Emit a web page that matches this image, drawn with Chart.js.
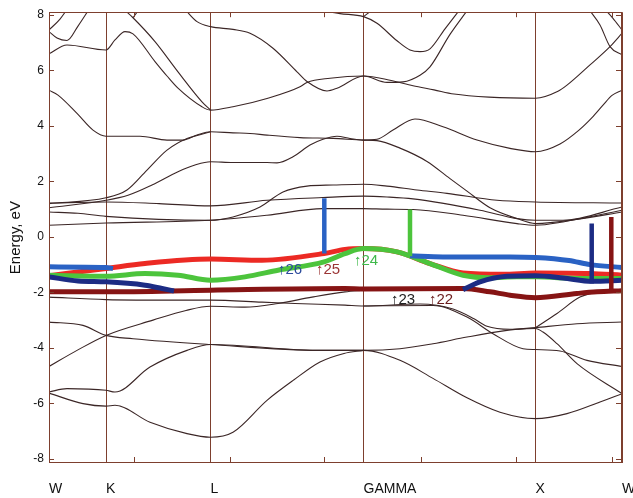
<!DOCTYPE html>
<html>
<head>
<meta charset="utf-8">
<script src="https://cdn.jsdelivr.net/npm/chart.js@4.4.0/dist/chart.umd.min.js"></script>
<style>
  html, body { margin: 0; padding: 0; background: #ffffff; }
</style>
</head>
<body>
<canvas id="bandChart" width="633" height="498"></canvas>
<script>
// k-path positions (arbitrary path length units) and labels
const symLabels = ["W", "K", "L", "GAMMA", "X", "W"];
const symPos = [0, 57, 161.5, 314.5, 486.5, 573];
const minorTicksX = [85, 181, 275, 372, 467, 563];
const yTickValues = [-8, -6, -4, -2, 0, 2, 4, 6, 8];

// thin bands, [k, energy eV]
const bandC1 = [[0, 7.46], [11, 7.85], [18, 8.2]];
const bandC2 = [[0, 7.4], [8, 7.17], [18, 7.08], [29, 7.6], [40, 8.2]];
const bandC3 = [[0, 6.6], [18, 6.92], [57, 6.74], [66, 7.1], [76, 7.4], [84, 7.32], [106, 6.32], [118, 5.8], [129, 5.36], [153, 4.69], [161.5, 4.57], [184, 4.69], [218, 4.99], [251, 5.41], [258, 5.57], [281, 5.72], [314.5, 5.8], [338, 5.57], [354, 5.59], [371, 5.83], [381, 6.13], [401, 7.3], [419, 8.2]];
const bandD = [[75, 8.2], [84, 7.9], [106, 7.04], [129, 5.95], [153, 4.87], [161.5, 4.57]];
const bandV = [[84, 7.9], [90, 8.2]];
const bandC4 = [[136, 8.2], [148, 7.76], [161.5, 7.58], [184, 7.48], [201, 7.34], [224, 6.8], [248, 5.95], [258, 5.6], [278, 5.26], [288, 5.36], [314.5, 5.8], [341, 5.65], [364, 5.45], [385, 5.3], [405, 5.15], [440, 5.04], [486.5, 5.0], [509, 5.25], [518, 5.47], [541, 6.2], [561, 6.86], [573, 7.34]];
const bandC6 = [[266, 8.2], [291, 8.05], [314.5, 7.94], [328, 7.7], [348, 7.07], [361, 6.74], [371, 6.68], [381, 6.78], [396, 7.5], [411, 8.2]];
const bandC7 = [[314.5, 7.94], [324, 8.2]];
const bandC8 = [[540, 8.2], [551, 7.64], [561, 6.86], [573, 6.56]];
const bandC9 = [[556, 8.2], [564, 7.88], [573, 7.46]];
const bandC5 = [[0, 5.29], [9, 5.11], [28, 4.45], [44, 3.85], [57, 3.63], [91, 3.63], [118, 3.49], [134, 3.49], [148, 3.67], [161.5, 3.79], [184, 3.75], [201, 3.73], [218, 3.67], [251, 3.58], [284, 3.55], [314.5, 3.49], [328, 3.47], [351, 3.2], [378, 2.72], [401, 2.1], [418, 1.65], [441, 1.05], [468, 0.66], [486.5, 0.48], [531, 0.65], [573, 0.9]];
const bandB1 = [[0, 1.2], [57, 1.41], [78, 1.69], [98, 2.41], [118, 3.13], [138, 3.55], [151, 3.68], [161.5, 3.79]];
const bandB2 = [[0, 1.05], [57, 1.32], [79, 1.5], [103, 1.87], [129, 2.35], [146, 2.59], [161.5, 2.71], [184, 2.68], [218, 2.68], [228, 2.67], [244, 2.89], [261, 3.31], [274, 3.52], [288, 3.63], [301, 3.55], [314.5, 3.49], [328, 3.52], [344, 3.85], [366, 4.25], [394, 3.97], [428, 3.49], [461, 3.19], [486.5, 3.07], [511, 3.35], [530, 3.85], [543, 4.3], [554, 4.75], [563, 5.1], [573, 5.29]];
const bandB3 = [[0, 1.22], [57, 1.26], [110, 1.2], [161.5, 1.12], [218, 1.32], [274, 1.42], [314.5, 1.47], [338, 1.44], [364, 1.37], [431, 0.96], [468, 0.66], [486.5, 0.6], [514, 0.6], [573, 1.08]];
const bandB4 = [[0, 0.9], [29, 0.85], [57, 0.74], [161.5, 0.6], [171, 0.63], [184, 0.72], [211, 1.08], [234, 1.62], [258, 1.83], [284, 1.87], [314.5, 1.9], [338, 1.83], [368, 1.69], [398, 1.57], [448, 1.32], [486.5, 1.26], [573, 1.22]];
const bandB5 = [[0, 0.42], [57, 0.5], [161.5, 0.6], [218, 0.78], [274, 1.02], [314.5, 1.02], [338, 1.0], [364, 0.99], [414, 0.78], [468, 0.48], [486.5, 0.42], [514, 0.54], [573, 0.96]];
const bandP = [[0, -2.17], [57, -2.26], [129, -2.28], [161.5, -2.28], [213, -2.35], [246, -2.4], [296, -2.46], [314.5, -2.49], [371, -2.42], [404, -2.6], [425, -2.95], [438, -3.22], [461, -3.33], [486.5, -3.3], [494, -3.43], [508, -3.85], [528, -4.57], [573, -5.65]];
const bandQ = [[314.5, -2.49], [384, -2.47], [418, -2.89], [444, -3.49], [474, -4.03], [486.5, -4.06], [511, -4.11], [538, -4.45], [573, -4.67]];
const bandR = [[0, -4.67], [28, -4.09], [57, -3.55], [104, -3.0], [137, -2.65], [161.5, -2.5], [196, -2.53], [229, -2.4], [263, -2.17], [296, -1.98], [314.5, -1.92]];
const bandS = [[0, -3.07], [34, -3.19], [57, -3.55], [84, -3.67], [161.5, -3.88], [271, -4.09], [314.5, -4.09], [351, -4.03], [384, -3.85], [418, -3.61], [458, -3.37], [486.5, -3.27], [528, -3.13], [573, -3.07]];
const bandT = [[0, -5.59], [18, -5.47], [57, -5.53], [66, -5.59], [101, -4.69], [138, -4.09], [161.5, -3.88], [271, -4.09], [314.5, -4.09], [351, -4.45], [384, -5.1], [418, -5.8], [451, -6.32], [486.5, -6.55], [518, -6.37], [551, -5.95], [573, -5.65]];
const bandU = [[0, -5.63], [34, -6.01], [57, -6.1], [66, -6.07], [101, -6.68], [138, -7.09], [161.5, -7.22], [184, -7.04], [218, -5.89], [245, -5.15], [271, -4.51], [295, -4.2], [314.5, -4.09]];
const bandXW = [[486.5, -3.27], [508, -2.76], [531, -2.17], [551, -1.98], [573, -1.95]];

// highlighted bands
const blueLeft = [[0, -1.08], [57, -1.1], [64, -1.14]];
const blueRight = [[361, -0.68], [394, -0.72], [461, -0.72], [486.5, -0.74], [520, -0.85], [541, -1.0], [573, -1.1]];
const redLine = [[0, -1.4], [57, -1.14], [96, -0.96], [161.5, -0.8], [213, -0.84], [275, -0.6], [296, -0.45], [314.5, -0.42], [348, -0.54], [381, -0.96], [414, -1.3], [454, -1.35], [486.5, -1.3], [541, -1.32], [573, -1.38]];
const greenLine = [[0, -1.38], [57, -1.42], [96, -1.32], [129, -1.38], [161.5, -1.56], [196, -1.44], [229, -1.2], [275, -0.9], [296, -0.6], [314.5, -0.42], [348, -0.54], [381, -0.96], [414, -1.38], [441, -1.47], [468, -1.44], [486.5, -1.44], [531, -1.5], [573, -1.5]];
const navyLeft = [[0, -1.44], [29, -1.59], [57, -1.62], [96, -1.74], [113, -1.86], [125, -1.95]];
const navyRight = [[414, -1.9], [431, -1.62], [458, -1.42], [486.5, -1.4], [514, -1.48], [543, -1.6], [573, -1.56]];
const darkRedLine = [[0, -1.98], [57, -1.98], [161.5, -1.92], [296, -1.86], [314.5, -1.88], [414, -1.86], [441, -1.98], [461, -2.1], [486.5, -2.19], [528, -2.04], [548, -1.98], [573, -1.94]];

const blueBar = [[275.3, 1.39], [275.3, -0.6]];
const greenBar = [[361, 0.99], [361, -0.7]];
const navyBar = [[542.7, 0.48], [542.7, -1.68]];
const darkRedBar = [[562.3, 0.72], [562.3, -1.92]];

// band index labels
const bandLabels = ["\u219126", "\u219125", "\u219124", "\u219123", "\u219122"];
const labelX = [229, 267, 305, 342, 380];
const labelY = [-1.2, -1.17, -0.88, -2.27, -2.27];

const thinBands = [bandC1, bandC2, bandC3, bandD, bandV, bandC4, bandC6, bandC7, bandC8, bandC9,
  bandC5, bandB1, bandB2, bandB3, bandB4, bandB5, bandP, bandQ, bandR, bandS, bandT, bandU, bandXW];

const frameColor = "#7d3f2e";
const thinColor = "#3b2626";
const labelColors = ["#2b4a9c", "#9b3535", "#3fb84a", "#222222", "#6b1e1e"];

function curve(data, color, width, order) {
    return {
        data: data,
        borderColor: color,
        borderWidth: width,
        pointRadius: 0,
        fill: false,
        cubicInterpolationMode: "monotone",
        order: order
    };
}

function bar(data, color) {
    return {
        data: data,
        borderColor: color,
        borderWidth: 4.5,
        pointRadius: 0,
        fill: false,
        tension: 0,
        order: 0
    };
}

const datasets = thinBands.map(b => curve(b, thinColor, 1.1, 10));
datasets.push(curve(blueLeft, "#2a62c4", 5, 1));
datasets.push(curve(blueRight, "#2a62c4", 5, 1));
datasets.push(curve(navyLeft, "#1c2c84", 5, 2));
datasets.push(curve(navyRight, "#1c2c84", 5, 2));
datasets.push(curve(greenLine, "#4cc43c", 5, 3));
datasets.push(curve(redLine, "#ec2a24", 5, 4));
datasets.push(curve(darkRedLine, "#861414", 5, 5));
datasets.push(bar(blueBar, "#2a62c4"));
datasets.push(bar(greenBar, "#4cc43c"));
datasets.push(bar(navyBar, "#1c2c84"));
datasets.push(bar(darkRedBar, "#861414"));

const framePlugin = {
    id: "frame",
    afterDatasetsDraw(chart) {
        const ctx = chart.ctx;
        const a = chart.chartArea;
        const x = chart.scales.x;
        const y = chart.scales.y;
        ctx.save();
        ctx.strokeStyle = frameColor;
        ctx.lineWidth = 1;
        ctx.strokeRect(Math.round(a.left) + 0.5, Math.round(a.top) + 0.5,
            Math.round(a.right - a.left) - 1, Math.round(a.bottom - a.top) - 1);
        ctx.beginPath();
        yTickValues.forEach(v => {
            const py = Math.round(y.getPixelForValue(v)) + 0.5;
            ctx.moveTo(a.left, py); ctx.lineTo(a.left + 5, py);
            ctx.moveTo(a.right, py); ctx.lineTo(a.right - 6, py);
        });
        minorTicksX.forEach(v => {
            const px = Math.round(x.getPixelForValue(v)) + 0.5;
            ctx.moveTo(px, a.top); ctx.lineTo(px, a.top + 5);
            ctx.moveTo(px, a.bottom); ctx.lineTo(px, a.bottom - 6);
        });
        ctx.stroke();

        ctx.font = "15px 'Liberation Sans', Arial, sans-serif";
        ctx.textBaseline = "middle";
        bandLabels.forEach((t, i) => {
            ctx.fillStyle = labelColors[i];
            ctx.fillText(t, x.getPixelForValue(labelX[i]), y.getPixelForValue(labelY[i]));
        });
        ctx.restore();
    }
};

new Chart(document.getElementById("bandChart"), {
    type: "line",
    data: { datasets: datasets },
    options: {
        responsive: false,
        animation: false,
        devicePixelRatio: 1,
        layout: { padding: { left: 0, right: 11, top: 12, bottom: 0 } },
        plugins: {
            legend: { display: false },
            tooltip: { enabled: false }
        },
        scales: {
            x: {
                type: "linear",
                min: 0,
                max: 573,
                afterBuildTicks: scale => { scale.ticks = symPos.map(v => ({ value: v })); },
                afterFit: scale => { scale.height = 35; scale.paddingLeft = 0; scale.paddingRight = 0; },
                ticks: {
                    autoSkip: false,
                    maxRotation: 0,
                    align: "start",
                    padding: 18,
                    color: "#111111",
                    font: { family: "'Liberation Sans', Arial, sans-serif", size: 14 },
                    callback: (value, index) => symLabels[index]
                },
                grid: { color: frameColor, lineWidth: 1, drawTicks: false },
                border: { display: false }
            },
            y: {
                min: -8.15,
                max: 8.1,
                afterBuildTicks: scale => { scale.ticks = yTickValues.map(v => ({ value: v })); },
                afterFit: scale => { scale.width = 49; },
                ticks: {
                    padding: 5,
                    color: "#111111",
                    font: { family: "'Liberation Sans', Arial, sans-serif", size: 12 },
                    callback: value => String(value)
                },
                grid: { display: false, drawTicks: false },
                border: { display: false },
                title: {
                    display: true,
                    text: "Energy, eV",
                    color: "#111111",
                    padding: { top: 7, bottom: 0 },
                    font: { family: "'Liberation Sans', Arial, sans-serif", size: 15 }
                }
            }
        }
    },
    plugins: [framePlugin]
});
</script>
</body>
</html>
